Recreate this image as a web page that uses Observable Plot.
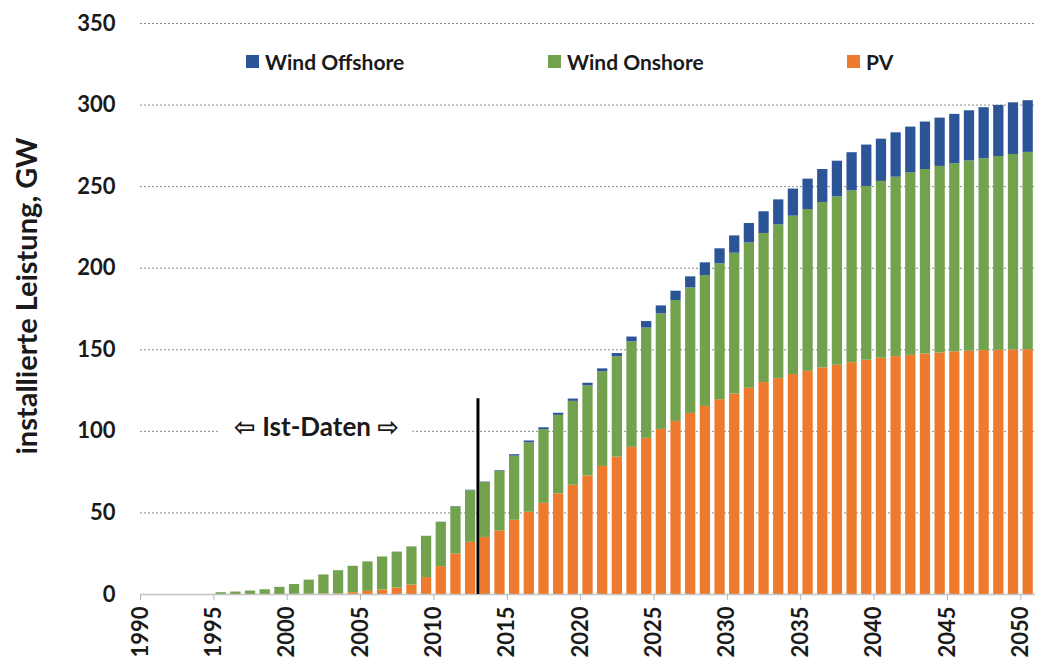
<!DOCTYPE html>
<html>
<head>
<meta charset="utf-8">
<script src="https://cdn.jsdelivr.net/npm/d3@7"></script>
<script src="https://cdn.jsdelivr.net/npm/@observablehq/plot@0.6"></script>
<style>
  html, body { margin: 0; padding: 0; background: #fff; }
  #wrap { position: relative; width: 1043px; height: 659px; font-family: Lato, "DejaVu Sans", sans-serif; }
  .item { position: absolute; top: 49px; display: flex; align-items: center; font-weight: 700; font-size: 21px; color: #1a1a1a; white-space: nowrap; }
  .sw { width: 13px; height: 13px; margin-right: 6px; }
</style>
</head>
<body>
<div id="wrap"></div>
<script>
// ---- data (GW) ----
const years = [1995,1996,1997,1998,1999,2000,2001,2002,2003,2004,2005,2006,2007,2008,2009,2010,2011,2012,
  2013,2014,2015,2016,2017,2018,2019,2020,2021,2022,2023,2024,
  2025,2026,2027,2028,2029,2030,2031,2032,2033,2034,2035,2036,
  2037,2038,2039,2040,2041,2042,2043,2044,2045,2046,2047,2048,2049,2050];

const pv = [0,0,0,0,0,0.1,0.2,0.3,0.4,1.1,1.9,2.8,4.0,5.8,10.4,17.1,24.8,32.0,
  35.0,38.9,45.5,50.4,55.9,61.7,67.0,72.7,78.5,84.2,90.2,95.7,
  101.2,106.1,111.0,115.3,119.4,122.9,126.4,129.9,132.3,134.8,136.8,138.9,
  140.5,142.1,143.6,144.8,145.8,146.6,147.4,148.0,148.7,149.1,149.5,149.7,149.9,150.0];

const onshore = [1.1,1.5,2.1,2.9,4.4,6.0,8.6,11.7,14.2,16.2,18.1,20.2,22.0,23.4,25.3,27.1,28.9,31.6,
  33.6,36.5,39.3,42.6,45.1,48.1,51.4,55.2,58.0,61.5,64.7,67.6,
  70.8,74.1,76.9,80.2,83.3,86.3,89.1,91.4,94.3,97.1,99.2,101.4,
  103.3,105.3,106.5,108.4,110.0,111.9,113.1,114.4,115.3,116.7,117.6,118.8,119.8,121.0];

const offshore = [0,0,0,0,0,0,0,0,0,0,0,0,0,0,0,0.1,0.2,0.3,
  0.3,0.4,0.9,1.1,1.2,1.3,1.4,1.6,1.8,2.0,2.9,4.0,
  4.9,5.7,6.8,7.8,9.2,10.6,11.9,13.3,15.3,16.6,18.6,20.2,
  21.8,23.4,25.4,25.9,27.2,28.0,29.1,29.6,30.3,30.7,31.3,31.3,31.7,31.7];

const seriesNames = ["Wind Offshore", "Wind Onshore", "PV"];
const seriesColors = ["#2c5597", "#73a24e", "#ee7a2d"];
const stackOrder = ["PV", "Wind Onshore", "Wind Offshore"];

const yTicks = [0, 50, 100, 150, 200, 250, 300, 350];
const xTicks = [1990, 1995, 2000, 2005, 2010, 2015, 2020, 2025, 2030, 2035, 2040, 2045, 2050];
const yLabel = "installierte Leistung, GW";

const istMarker = [{year: 2013, top: 120}];
const istLabel = [{year: 2002, value: 102.5, label: "\u21E6 Ist-Daten \u21E8"}];

// ---- long table ----
const rows = years.flatMap((year, i) => [
  {year, series: "PV", value: pv[i]},
  {year, series: "Wind Onshore", value: onshore[i]},
  {year, series: "Wind Offshore", value: offshore[i]}
]);

const font = "Lato, 'DejaVu Sans', sans-serif";

const chart = Plot.plot({
  width: 1043,
  height: 659,
  marginLeft: 140,
  marginRight: 8,
  marginTop: 23,
  marginBottom: 65,
  style: {fontFamily: font, fontWeight: 700, fontSize: "22px", color: "#1a1a1a", background: "white", overflow: "visible"},
  x: {domain: [1990, 2051], axis: null},
  y: {domain: [0, 350], axis: null},
  color: {domain: seriesNames, range: seriesColors},
  marks: [
    Plot.ruleY(yTicks.filter(d => d > 0), {stroke: "#8a8a8a", strokeWidth: 1, strokeDasharray: "2,2"}),
    Plot.rectY(rows, Plot.stackY({
      x1: "year",
      x2: d => d.year + 1,
      y: "value",
      fill: "series",
      order: stackOrder,
      insetLeft: 2.2,
      insetRight: 2.2
    })),
    Plot.ruleY([0], {stroke: "#c4c4c4", strokeWidth: 1.5}),
    Plot.axisX({
      ticks: xTicks,
      tickFormat: d => String(d),
      tickRotate: -90,
      tickSize: 6,
      tickPadding: 6,
      stroke: "#b5b5b5",
      fill: "#1a1a1a",
      fontSize: 22,
      fontWeight: 700,
      label: null
    }),
    Plot.axisY({
      ticks: yTicks,
      tickSize: 0,
      tickPadding: 25,
      fill: "#1a1a1a",
      fontSize: 22,
      fontWeight: 700,
      label: null
    }),
    Plot.text([yLabel], {
      text: d => d,
      frameAnchor: "left",
      dx: -113,
      dy: -13,
      rotate: -90,
      textAnchor: "middle",
      lineAnchor: "middle",
      fontSize: 29,
      fontWeight: 700,
      fill: "#1a1a1a"
    }),
    Plot.text(istLabel, {
      x: "year",
      y: "value",
      text: "label",
      fontSize: 26,
      fontWeight: 700,
      fill: "#1a1a1a",
      stroke: "white",
      strokeWidth: 30,
      strokeLinejoin: "round"
    }),
    Plot.ruleX(istMarker, {x: "year", y1: () => 0, y2: "top", stroke: "#000", strokeWidth: 3})
  ]
});

const wrap = document.getElementById("wrap");
wrap.appendChild(chart);

const legendLeft = [246, 548, 847];
seriesNames.forEach((name, i) => {
  const item = document.createElement("div");
  item.className = "item";
  item.style.left = legendLeft[i] + "px";
  const sw = document.createElement("span");
  sw.className = "sw";
  sw.style.background = seriesColors[i];
  const t = document.createElement("span");
  t.textContent = name;
  item.appendChild(sw);
  item.appendChild(t);
  wrap.appendChild(item);
});
</script>
</body>
</html>
